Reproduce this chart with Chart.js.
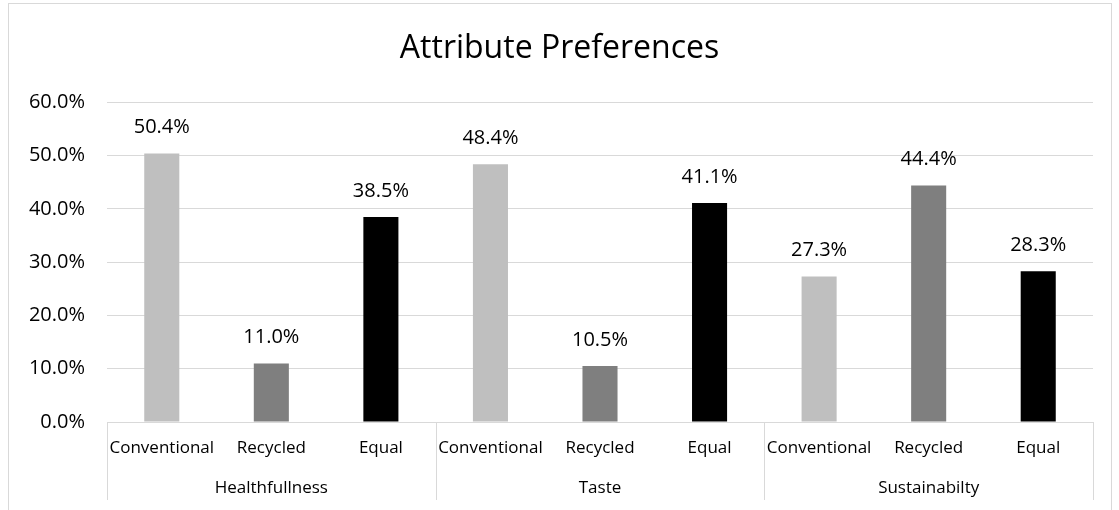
<!DOCTYPE html>
<html>
<head>
<meta charset="utf-8">
<script src="https://cdn.jsdelivr.net/npm/chart.js@4.4.1/dist/chart.umd.min.js"></script>
<style>
  html, body { margin: 0; padding: 0; background: #fff; }
  #wrap { width: 1119px; height: 510px; }
</style>
</head>
<body>
<div id="wrap"><canvas id="myChart" width="1119" height="510"></canvas></div>
<script>
// datos del grafico
const grupos = ["Healthfullness", "Taste", "Sustainabilty"];
const opciones = ["Conventional", "Recycled", "Equal"];
const healthfullness = [50.4, 11.0, 38.5];
const taste = [48.4, 10.5, 41.1];
const sustainability = [27.3, 44.4, 28.3];
const yTicks = [0, 10, 20, 30, 40, 50, 60];
const colores = ["#bfbfbf", "#7f7f7f", "#000000"];

const fuente = "'Open Sans', sans-serif";
const grisLinea = "#d9d9d9";

// armar las 9 barras
const etiquetas = [];
const valores = [];
const coloresBarras = [];
const series = [healthfullness, taste, sustainability];
for (let g = 0; g < grupos.length; g++) {
    for (let i = 0; i < opciones.length; i++) {
        etiquetas.push(opciones[i]);
        valores.push(series[g][i]);
        coloresBarras.push(colores[i]);
    }
}

// marco exterior, separadores de grupo y etiquetas de valor
const extras = {
    id: "extras",
    beforeDraw(chart) {
        const ctx = chart.ctx;
        ctx.save();
        ctx.strokeStyle = grisLinea;
        ctx.lineWidth = 1;
        ctx.strokeRect(8.5, 3.5, 1103, 540);
        ctx.restore();
    },
    afterDraw(chart) {
        const ctx = chart.ctx;
        const x = chart.scales.x;
        ctx.save();
        ctx.strokeStyle = grisLinea;
        ctx.lineWidth = 1;
        for (let g = 0; g <= grupos.length; g++) {
            const px = Math.round(x.left + g * x.width / grupos.length) + 0.5;
            ctx.beginPath();
            ctx.moveTo(px, x.top);
            ctx.lineTo(px, 500);
            ctx.stroke();
        }
        // etiquetas de valor arriba de cada barra
        const meta = chart.getDatasetMeta(0);
        ctx.fillStyle = "#000";
        ctx.font = "20px " + fuente;
        ctx.textAlign = "center";
        ctx.textBaseline = "middle";
        meta.data.forEach((bar, i) => {
            ctx.fillText(valores[i].toFixed(1) + "%", bar.x, bar.y - 26);
        });
        ctx.restore();
    }
};

const grafica = document.getElementById("myChart").getContext("2d");
const myChart = new Chart(grafica, {
    type: "bar",
    data: {
        labels: etiquetas,
        datasets: [
            {
                label: "Attribute Preferences",
                data: valores,
                backgroundColor: coloresBarras,
                barPercentage: 0.64,
                categoryPercentage: 0.5,
                xAxisID: "x"
            }
        ]
    },
    options: {
        responsive: false,
        animation: false,
        layout: { padding: { top: 14, left: 26, right: 26, bottom: 0 } },
        plugins: {
            legend: { display: false },
            tooltip: { enabled: false },
            title: {
                display: true,
                text: "Attribute Preferences",
                color: "#000",
                font: { family: fuente, size: 32, weight: "normal" },
                padding: { top: 16, bottom: 34 }
            }
        },
        scales: {
            y: {
                min: 0,
                max: 60,
                afterFit(s) { s.width = 81; },
                afterBuildTicks(s) { s.ticks = yTicks.map(v => ({ value: v })); },
                grid: { color: grisLinea, drawTicks: false },
                border: { display: false },
                ticks: {
                    padding: 22,
                    color: "#000",
                    font: { family: fuente, size: 20 },
                    callback: v => v.toFixed(1) + "%"
                }
            },
            x: {
                afterFit(s) { s.height = 40; },
                grid: { display: false, drawTicks: false },
                border: { display: true, color: grisLinea },
                ticks: {
                    padding: 16,
                    maxRotation: 0,
                    autoSkip: false,
                    color: "#000",
                    font: { family: fuente, size: 17 }
                }
            },
            x2: {
                type: "category",
                labels: grupos,
                position: "bottom",
                offset: true,
                afterFit(s) { s.height = 48; },
                grid: { display: false, drawTicks: false },
                border: { display: false },
                ticks: {
                    padding: 16,
                    maxRotation: 0,
                    color: "#000",
                    font: { family: fuente, size: 17 }
                }
            }
        }
    },
    plugins: [extras]
});
</script>
</body>
</html>
